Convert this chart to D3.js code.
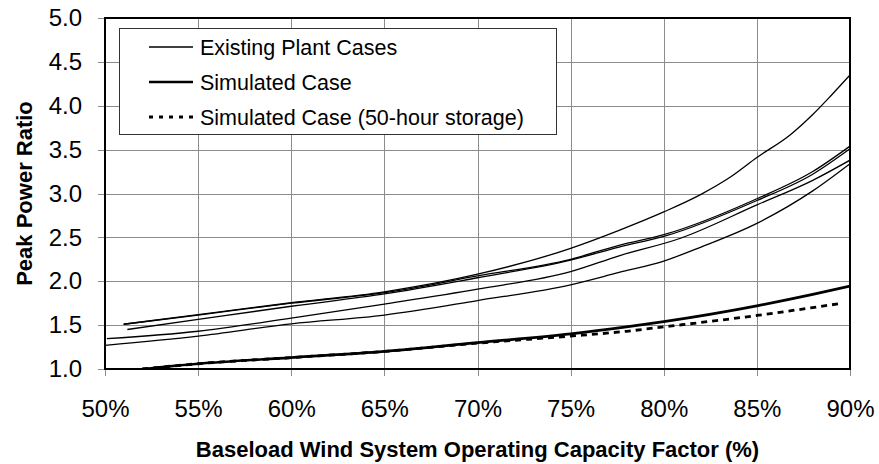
<!DOCTYPE html>
<html>
<head>
<meta charset="utf-8">
<script src="https://cdn.jsdelivr.net/npm/d3@7"></script>
<style>
body { margin: 0; background: #fff; }
text { font-family: "Liberation Sans", Arial, sans-serif; fill: #000; }
</style>
</head>
<body>
<svg></svg>
<script>
var screen = {width: 879, height: 464};
var margins = {top: 18, right: 29, bottom: 95, left: 105};

// capacity factor (%) , peak power ratio
var existing1 = [[51.0,1.51],[55,1.62],[60,1.755],[65,1.88],[70,2.08],[75,2.375],[77.6,2.58],[80,2.79],[82,2.99],[83.6,3.19],[85,3.41],[86.8,3.67],[88,3.9],[89,4.12],[90,4.35]];
var existing2 = [[51.0,1.51],[55,1.615],[60,1.75],[65,1.87],[70,2.06],[75,2.25],[77.6,2.41],[80,2.53],[85,2.94],[88,3.25],[90,3.54]];
var existing3 = [[51.2,1.45],[55,1.565],[60,1.715],[65,1.855],[70,2.04],[75,2.24],[77.6,2.39],[80,2.51],[85,2.92],[88,3.22],[90,3.51]];
var existing4 = [[50.1,1.345],[55,1.43],[60,1.58],[65,1.74],[70,1.91],[75,2.11],[77.6,2.29],[80.9,2.49],[85,2.87],[88,3.15],[90,3.38]];
var existing5 = [[50,1.27],[55,1.375],[60,1.515],[65,1.615],[70,1.78],[75,1.96],[77.6,2.1],[80,2.23],[82,2.39],[85,2.66],[88,3.03],[90,3.34]];
var simulated = [[52,1.0],[55,1.06],[60,1.13],[65,1.2],[70,1.3],[75,1.4],[78,1.48],[80,1.54],[85,1.72],[88,1.85],[90,1.945]];
var simulatedStorage = [[52,1.0],[55,1.06],[60,1.13],[65,1.2],[70,1.295],[75,1.375],[78,1.43],[80,1.48],[85,1.61],[88,1.7],[89.6,1.75]];

var xTicks = [50,55,60,65,70,75,80,85,90];
var yTicks = [1.0,1.5,2.0,2.5,3.0,3.5,4.0,4.5,5.0];
var legendLabels = ["Existing Plant Cases", "Simulated Case", "Simulated Case (50-hour storage)"];

var width = screen.width - margins.left - margins.right;
var height = screen.height - margins.top - margins.bottom;

var svg = d3.select("svg")
    .attr("width", screen.width)
    .attr("height", screen.height);

var xScale = d3.scaleLinear().domain([50, 90]).range([0, width]);
var yScale = d3.scaleLinear().domain([1, 5]).range([height, 0]);

// grid + ticks (ticks stick out 7px past the frame)
var yAxis = d3.axisLeft(yScale)
    .tickValues(yTicks)
    .tickSize(-(width + 7))
    .tickPadding(16)
    .tickFormat(d3.format(".1f"));

var xAxis = d3.axisBottom(xScale)
    .tickValues(xTicks)
    .tickSize(-(height + 7))
    .tickPadding(24)
    .tickFormat(function(d) { return d + "%"; });

svg.append("g")
    .attr("id", "yAxis")
    .attr("transform", "translate(" + (margins.left - 7) + "," + margins.top + ")")
    .call(yAxis);

svg.append("g")
    .attr("id", "xAxis")
    .attr("transform", "translate(" + margins.left + "," + (margins.top + height + 7) + ")")
    .call(xAxis);

svg.selectAll("#xAxis .domain, #yAxis .domain").remove();
svg.selectAll("#xAxis line, #yAxis line")
    .attr("stroke", "#8c8c8c")
    .attr("stroke-width", 1)
    .attr("shape-rendering", "crispEdges");
svg.selectAll("#xAxis text, #yAxis text")
    .style("font-size", "24px")
    .attr("fill", "#000");

svg.append("defs").append("clipPath")
    .attr("id", "plotClip")
    .append("rect")
    .attr("width", width)
    .attr("height", height);

var graph = svg.append("g")
    .attr("id", "graph")
    .attr("transform", "translate(" + margins.left + "," + margins.top + ")");

var lineGenerator = d3.line()
    .x(function(d) { return xScale(d[0]); })
    .y(function(d) { return yScale(d[1]); })
    .curve(d3.curveMonotoneX);

var plot = graph.append("g").attr("clip-path", "url(#plotClip)");

var drawLine = function(data, strokeWidth, dash)
{
    plot.append("path")
        .datum(data)
        .attr("fill", "none")
        .attr("stroke", "#000")
        .attr("stroke-width", strokeWidth)
        .attr("stroke-dasharray", dash)
        .attr("d", lineGenerator);
}

drawLine(existing1, 1.3, null);
drawLine(existing2, 1.3, null);
drawLine(existing3, 1.3, null);
drawLine(existing4, 1.3, null);
drawLine(existing5, 1.3, null);
drawLine(simulatedStorage, 2.8, "6,5");
drawLine(simulated, 2.7, null);

// frame
graph.append("rect")
    .attr("width", width)
    .attr("height", height)
    .attr("fill", "none")
    .attr("stroke", "#000")
    .attr("stroke-width", 2);

// axis titles
svg.append("text")
    .attr("x", margins.left + width / 2)
    .attr("y", 457)
    .style("text-anchor", "middle")
    .style("font-size", "22px")
    .style("font-weight", "bold")
    .text("Baseload Wind System Operating Capacity Factor (%)");

svg.append("text")
    .attr("transform", "translate(32," + (margins.top + height / 2) + ") rotate(-90)")
    .style("text-anchor", "middle")
    .style("font-size", "22px")
    .style("font-weight", "bold")
    .text("Peak Power Ratio");

var drawLegend = function(labels)
{
    var legend = svg.append("g").attr("id", "legend");

    legend.append("rect")
        .attr("x", 119.5)
        .attr("y", 28.5)
        .attr("width", 437)
        .attr("height", 106)
        .attr("fill", "#fff")
        .attr("stroke", "#333")
        .attr("stroke-width", 1);

    var styles = [{w: 1.3, dash: null}, {w: 2.7, dash: null}, {w: 2.8, dash: "4,6"}];

    var gs = legend.selectAll("g")
        .data(labels)
        .enter()
        .append("g")
        .attr("transform", function(d, i) { return "translate(149," + (47 + i * 35) + ")"; });

    gs.append("line")
        .attr("x1", 0)
        .attr("x2", 44)
        .attr("stroke", "#000")
        .attr("stroke-width", function(d, i) { return styles[i].w; })
        .attr("stroke-dasharray", function(d, i) { return styles[i].dash; });

    gs.append("text")
        .attr("x", 51)
        .attr("y", 7.5)
        .style("font-size", "21.5px")
        .text(function(d) { return d; });
}

drawLegend(legendLabels);
</script>
</body>
</html>
